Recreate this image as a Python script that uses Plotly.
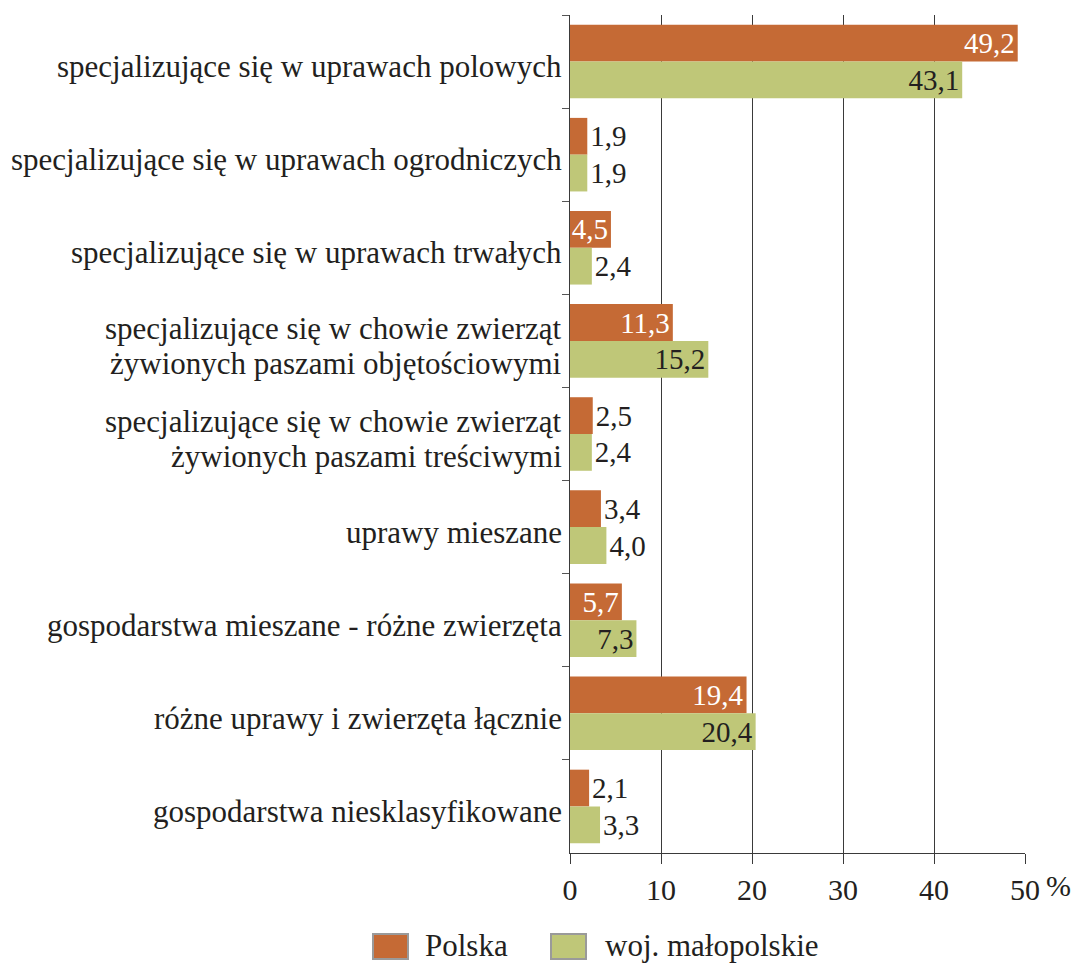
import plotly.graph_objects as go

categories = [
    "specjalizujące się w uprawach polowych",
    "specjalizujące się w uprawach ogrodniczych",
    "specjalizujące się w uprawach trwałych",
    "specjalizujące się w chowie zwierząt<br>żywionych paszami objętościowymi",
    "specjalizujące się w chowie zwierząt<br>żywionych paszami treściwymi",
    "uprawy mieszane",
    "gospodarstwa mieszane - różne zwierzęta",
    "różne uprawy i zwierzęta łącznie",
    "gospodarstwa niesklasyfikowane",
]
series_names = ["Polska", "woj. małopolskie"]
polska = [49.2, 1.9, 4.5, 11.3, 2.5, 3.4, 5.7, 19.4, 2.1]
malopolskie = [43.1, 1.9, 2.4, 15.2, 2.4, 4.0, 7.3, 20.4, 3.3]
x_ticks = [0, 10, 20, 30, 40, 50]
x_unit = "%"

pos_polska = ["inside", "outside", "inside", "inside", "outside", "outside", "inside", "inside", "outside"]
pos_malo = ["inside", "outside", "outside", "inside", "outside", "outside", "inside", "inside", "outside"]

ORANGE = "#C56A35"
GREEN = "#BFC778"
TXT = "#231F20"
FONT = "Liberation Serif"
FS_CAT = 31
FS_TICK = 30
FS_VAL = 29
FS_LEG = 31

W, H = 1082, 963
L, R, T, B = 570, 1025, 15, 853


def px_x(p):
    return (p - L) / (R - L)


def px_y(p):
    return (B - p) / (B - T)


fig = go.Figure()
fig.add_trace(go.Bar(
    y=categories, x=polska, orientation="h", name=series_names[0],
    marker=dict(color=ORANGE, line=dict(width=0)),
    texttemplate="%{x:.1f}", textposition=pos_polska, textangle=0,
    insidetextanchor="end", constraintext="none", cliponaxis=False,
    insidetextfont=dict(color="white", size=FS_VAL, family=FONT),
    outsidetextfont=dict(color=TXT, size=FS_VAL, family=FONT),
    showlegend=False, hoverinfo="skip",
))
fig.add_trace(go.Bar(
    y=categories, x=malopolskie, orientation="h", name=series_names[1],
    marker=dict(color=GREEN, line=dict(width=0)),
    texttemplate="%{x:.1f}", textposition=pos_malo, textangle=0,
    insidetextanchor="end", constraintext="none", cliponaxis=False,
    insidetextfont=dict(color=TXT, size=FS_VAL, family=FONT),
    outsidetextfont=dict(color=TXT, size=FS_VAL, family=FONT),
    showlegend=False, hoverinfo="skip",
))

annotations = []
# category labels, one annotation per line for tighter line spacing
for cat in categories:
    lines = cat.split("<br>")
    n = len(lines)
    for i, ln in enumerate(lines):
        shift = ((n - 1) / 2 - i) * 35
        annotations.append(dict(
            x=0, xref="paper", y=cat, yref="y", text=ln, showarrow=False,
            xanchor="right", yanchor="middle", xshift=-6, yshift=shift - 5,
            font=dict(size=FS_CAT, family=FONT, color=TXT),
        ))
# unit after last tick label
annotations.append(dict(
    x=x_ticks[-1], xref="x", y=0, yref="paper", text=x_unit, showarrow=False,
    xanchor="left", yanchor="top", xshift=19, yshift=-14,
    font=dict(size=FS_TICK, family=FONT, color=TXT),
))

# custom legend
shapes = []
legend_items = [
    (series_names[0], ORANGE, 373, 408, 423),
    (series_names[1], GREEN, 551, 586, 603),
]
for name, col, x0, x1, xt in legend_items:
    shapes.append(dict(
        type="rect", xref="paper", yref="paper",
        x0=px_x(x0), x1=px_x(x1), y0=px_y(959), y1=px_y(934),
        fillcolor=col, line=dict(color="#9A9A9A", width=2),
    ))
    annotations.append(dict(
        x=px_x(xt), xref="paper", y=px_y(945), yref="paper", text=name,
        showarrow=False, xanchor="left", yanchor="middle",
        font=dict(size=FS_LEG, family=FONT, color=TXT),
    ))

fig.update_layout(
    width=W, height=H,
    margin=dict(l=L, r=W - R, t=T, b=H - B, pad=0),
    paper_bgcolor="white", plot_bgcolor="white",
    barmode="group", bargap=0.21, bargroupgap=0,
    separators=", ",
    font=dict(family=FONT, size=FS_TICK, color=TXT),
    xaxis=dict(
        range=[0, 50], tickvals=x_ticks, ticktext=[str(v) for v in x_ticks],
        showgrid=True, gridcolor="#3A3A3A", gridwidth=1,
        showline=True, linecolor="#3A3A3A", linewidth=1,
        ticks="outside", ticklen=10, tickcolor="#3A3A3A", tickwidth=1,
        zeroline=False, tickfont=dict(size=FS_TICK, family=FONT, color=TXT),
        fixedrange=True,
    ),
    yaxis=dict(
        autorange="reversed", showticklabels=False,
        showline=True, linecolor="#3A3A3A", linewidth=1,
        ticks="outside", tickson="boundaries", ticklen=7,
        tickcolor="#555555", tickwidth=1, showgrid=False, zeroline=False,
        fixedrange=True,
    ),
    annotations=annotations, shapes=shapes,
)

fig.write_html("out.html", config={"displayModeBar": False},
               post_script="document.body.style.margin='0';")
